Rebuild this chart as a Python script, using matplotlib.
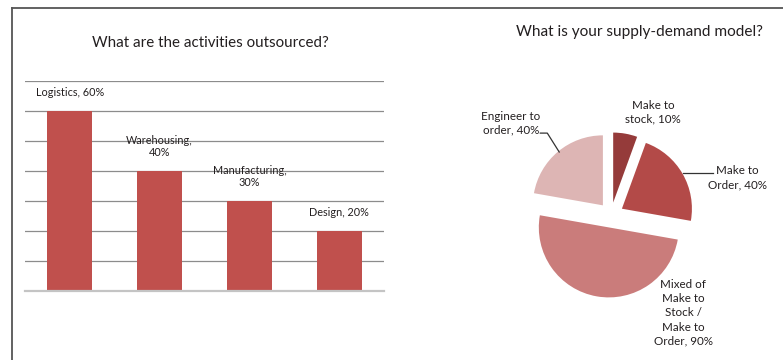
import matplotlib.pyplot as plt
from matplotlib.lines import Line2D

# survey results
#------------------------------------------------------------------------------
activities = ['Logistics', 'Warehousing', 'Manufacturing', 'Design']
activity_share = [60, 40, 30, 20]

models = ['Make to\nstock', 'Make to\nOrder',
          'Mixed of\nMake to\nStock /\nMake to\nOrder', 'Engineer to\norder']
model_share = [10, 40, 90, 40]
model_colors = ['#953B3A', '#B34A48', '#CA7C7B', '#DDB5B4']
#------------------------------------------------------------------------------

plt.rcParams['font.family'] = ['Lato', 'DejaVu Sans']
text_color = '#231F20'

fig = plt.figure(figsize=(7.83, 3.6), dpi=100)

# frame around the page
fig.add_artist(Line2D([11.5 / 783, 1], [1 - 7.5 / 360, 1 - 7.5 / 360],
                      color='#555555', lw=1.3))
fig.add_artist(Line2D([11.5 / 783, 11.5 / 783], [0, 1 - 7.5 / 360],
                      color='#555555', lw=1.3))

# bar chart: outsourced activities
#------------------------------------------------------------------------------
ax1 = fig.add_axes([25 / 783, 69 / 360, 359 / 783, 210 / 360])
x = range(len(activities))
bars = ax1.bar(x, activity_share, width=0.5, color='#C0504D', zorder=2)
ax1.set_xlim(-0.5, len(activities) - 0.5)
ax1.set_ylim(0, 70)
ax1.set_yticks(range(10, 71, 10))
ax1.grid(axis='y', color='#8C8C8C', lw=0.9, zorder=1)
ax1.tick_params(left=False, bottom=False, labelleft=False, labelbottom=False)
for side in ['left', 'right', 'top']:
    ax1.spines[side].set_visible(False)
ax1.spines['bottom'].set_color('#C4C4C4')
ax1.spines['bottom'].set_linewidth(1.6)

for rect, name, val in zip(bars, activities, activity_share):
    if len(name) > 10:
        label = f'{name},\n{val}%'
    else:
        label = f'{name}, {val}%'
    ax1.annotate(label, (rect.get_x() + rect.get_width() / 2, val),
                 xytext=(0, 9), textcoords='offset points',
                 ha='center', va='bottom', fontsize=7.8,
                 color=text_color, linespacing=1.2)

fig.text(210.8 / 783, 1 - 43 / 360, 'What are the activities outsourced?',
         ha='center', va='center', fontsize=10.9, color=text_color)
#------------------------------------------------------------------------------

# pie chart: supply-demand model
#------------------------------------------------------------------------------
ax2 = fig.add_axes([491 / 783, 25 / 360, 240 / 783, 240 / 360])
ax2.pie(model_share, colors=model_colors, startangle=90, counterclock=False,
        explode=[0.18] * len(model_share),
        wedgeprops=dict(linewidth=0))
lim = 120 / 70
ax2.set_xlim(-lim, lim)
ax2.set_ylim(-lim, lim)
ax2.set_aspect('equal')
ax2.axis('off')

label_pos = [(0.60, 1.47), (1.80, 0.53), (1.03, -1.40), (-1.43, 1.31)]
for name, val, pos in zip(models, model_share, label_pos):
    ax2.text(pos[0], pos[1], f'{name}, {val}%', ha='center', va='center',
             fontsize=8.4, color=text_color, linespacing=1.35)

# leader lines
ax2.plot([1.03, 1.45], [0.60, 0.60], color='#333333', lw=0.9)
ax2.plot([-1.01, -0.91, -0.74], [1.17, 1.17, 0.90], color='#333333', lw=0.9)

fig.text(639.7 / 783, 1 - 32 / 360, 'What is your supply-demand model?',
         ha='center', va='center', fontsize=11.1, color=text_color)
#------------------------------------------------------------------------------

fig.savefig('out.png', dpi=100)
